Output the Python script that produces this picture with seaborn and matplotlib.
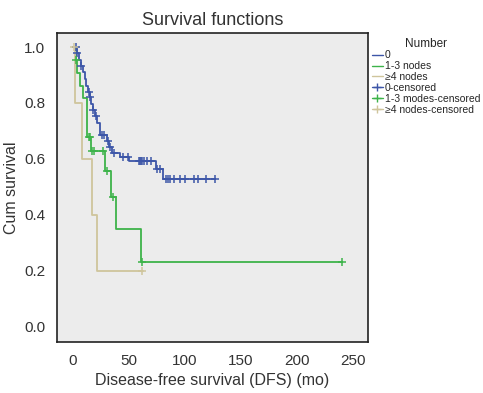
import numpy as np
import pandas as pd
import seaborn as sb
import matplotlib.pyplot as plt
from matplotlib.lines import Line2D

# step curves (time in months, survival after step)
node0_t = [0, 3.5, 5, 7, 9, 10.5, 12, 13.5, 15, 16.5, 17.5, 19.5, 21, 24.5, 30, 32, 35, 42, 50, 74, 80, 127]
node0_s = [1.0, 0.977, 0.955, 0.932, 0.91, 0.886, 0.861, 0.84, 0.82, 0.797, 0.775, 0.752, 0.73, 0.686,
           0.664, 0.643, 0.622, 0.608, 0.593, 0.563, 0.53, 0.53]
node13_t = [0, 2.5, 4, 6, 9, 12.2, 15.8, 29, 34, 38, 61, 240]
node13_s = [1.0, 0.954, 0.906, 0.861, 0.817, 0.68, 0.629, 0.558, 0.465, 0.349, 0.232, 0.232]
node4_t = [0, 2, 7.7, 17.2, 21, 62.8]
node4_s = [1.0, 0.8, 0.6, 0.4, 0.2, 0.2]

# censored times
cens0 = [3, 3.8, 7.5, 14, 15.5, 18, 20.5, 26, 27.5, 31, 33, 36.5, 45, 49, 59, 60, 61, 62, 63, 66, 70,
         75, 78, 83, 85, 87, 90, 96, 100, 108, 112, 119, 127]
cens13 = [2.8, 14, 15.2, 16.7, 19, 26.5, 30, 36, 61.5, 240]
cens4 = [0.5, 62]

groups = ['0', '1-3 nodes', '\u22654 nodes']
colors = ['#3d56a8', '#3db34a', '#cfc59c']


def surv_at(t, times, surv):
    i = np.searchsorted(times, t, side='right') - 1
    return surv[max(i, 0)]


curves = pd.concat([
    pd.DataFrame({'t': node0_t, 's': node0_s, 'group': groups[0]}),
    pd.DataFrame({'t': node13_t, 's': node13_s, 'group': groups[1]}),
    pd.DataFrame({'t': node4_t, 's': node4_s, 'group': groups[2]}),
])
cens = pd.concat([
    pd.DataFrame({'t': cens0, 's': [surv_at(c, node0_t, node0_s) for c in cens0], 'group': groups[0]}),
    pd.DataFrame({'t': cens13, 's': [surv_at(c, node13_t, node13_s) for c in cens13], 'group': groups[1]}),
    pd.DataFrame({'t': cens4, 's': [surv_at(c, node4_t, node4_s) for c in cens4], 'group': groups[2]}),
])

sb.set_style('white', {'axes.facecolor': '#ececec', 'axes.edgecolor': '#222222'})
plt.rcParams['font.family'] = ['Liberation Sans', 'DejaVu Sans']

fig = plt.figure(figsize=(4.83, 3.93), dpi=100)
ax = fig.add_axes([0.118, 0.13, 0.644, 0.786])
pal = dict(zip(groups, colors))

sb.lineplot(data=curves, x='t', y='s', hue='group', palette=pal, estimator=None, sort=False,
            drawstyle='steps-post', linewidth=1.3, legend=False, ax=ax)
for g in groups:
    d = cens[cens.group == g]
    ax.scatter(d.t, d.s, marker='+', s=36, color=pal[g], linewidths=1.1, zorder=3)

ax.set_xlim(-14.3, 263.5)
ax.set_ylim(-0.054, 1.05)
ax.set_xticks([0, 50, 100, 150, 200, 250])
ax.set_yticks([0.0, 0.2, 0.4, 0.6, 0.8, 1.0])
ax.set_yticklabels(['0.0', '0.2', '0.4', '0.6', '0.8', '1.0'])
ax.tick_params(direction='out', length=5, width=1.2, labelsize=11, colors='#222222', labelcolor='#333333')
for sp in ax.spines.values():
    sp.set_linewidth(1.2)
ax.set_xlabel('Disease-free survival (DFS) (mo)', fontsize=11.5, color='#333333')
ax.set_ylabel('Cum survival', fontsize=11.5, color='#333333')
ax.set_title('Survival functions', fontsize=13, color='#333333', pad=6)

handles = [Line2D([], [], color=c, lw=1) for c in colors]
handles += [Line2D([], [], color=c, lw=1, marker='+', markersize=6) for c in colors]
labels = groups + ['0-censored', '1-3 modes-censored', '\u22654 nodes-censored']
leg = fig.legend(handles, labels, title='Number', loc='upper left', bbox_to_anchor=(0.762, 0.915),
                 frameon=False, fontsize=7.5, title_fontsize=8.5, handlelength=1.0,
                 handletextpad=0.2, labelspacing=0.08, borderaxespad=0)

fig.savefig('out.png', dpi=100)
